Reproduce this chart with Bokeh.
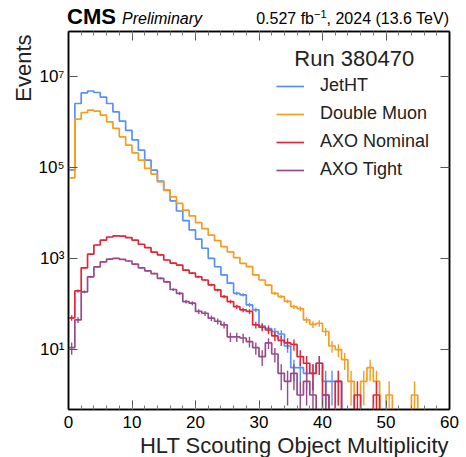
import numpy as np
from bokeh.plotting import figure
from bokeh.layouts import column
from bokeh.models import (Range1d, LinearAxis, LogAxis, FixedTicker, Label, Title, Div,
                          Legend, LegendItem)
from bokeh.embed import file_html
from bokeh.resources import INLINE

# ---------------- data ----------------
bin_edges = list(range(0, 61))

jetht = [9.0e4, 2.6e6, 4.45e6, 4.9e6, 4.55e6, 3.6e6, 2.6e6, 1.7e6, 1.07e6, 6.7e5,
         4.1e5, 2.45e5, 1.48e5, 8.9e4, 5.1e4, 3.25e4, 1.88e4, 1.12e4, 6900, 4300,
         2700, 1700, 1020, 665, 440, 290, 173, 160, 96, 75,
         33, 29, 25, 22, 12, 4, 4, 3, 3, 5,
         2, 2, 2, 0, 0, 0, 0, 0, 0, 0,
         0, 0, 0, 0, 0, 0, 0, 0, 0, 0]

double_muon = [6.0e4, 1.18e6, 1.65e6, 1.86e6, 1.77e6, 1.44e6, 1.03e6, 7.35e5, 4.8e5, 3.15e5,
               2.14e5, 1.48e5, 9.7e4, 7.3e4, 4.9e4, 3.2e4, 2.3e4, 1.65e4, 1.17e4, 8800,
               6200, 4570, 3300, 2500, 1840, 1420, 1060, 790, 670, 440,
               340, 263, 173, 147, 115, 88, 80, 45, 36, 38,
               25, 12, 10, 6, 2, 0, 2, 4, 2, 0,
               1, 0, 0, 0, 1, 0, 0, 0, 0, 0]

axo_nominal = [50, 195, 630, 1260, 2000, 2570, 3000, 3170, 3150, 2900,
               2570, 2080, 1750, 1390, 1210, 935, 800, 725, 560, 480,
               400, 340, 265, 205, 146, 114, 88, 75, 69, 35,
               31, 27, 20, 16, 14, 13, 7, 5, 3, 5,
               1, 0, 2, 0, 0, 1, 0, 0, 1, 0,
               0, 0, 0, 0, 0, 0, 0, 0, 0, 0]

axo_tight = [11, 45, 187, 400, 660, 850, 980, 1020, 970, 890,
             760, 630, 540, 470, 370, 310, 210, 173, 114, 105,
             69, 63, 49, 42, 35, 19, 19, 18, 15, 11,
             7, 14, 8, 3, 2, 3, 1, 2, 1, 0,
             1, 0, 0, 0, 0, 0, 0, 0, 0, 0,
             0, 0, 0, 0, 0, 0, 0, 0, 0, 0]

series_names = ["JetHT", "Double Muon", "AXO Nominal", "AXO Tight"]
series_values = [jetht, double_muon, axo_nominal, axo_tight]
series_colors = ["#5790fc", "#f89c20", "#e42536", "#964a8b"]

x_ticks = [0, 10, 20, 30, 40, 50, 60]
x_minor_ticks = list(range(0, 61, 2))
y_ticks = [10, 1000, 100000, 10000000]
y_tick_labels = ["10¹", "10³", "10⁵", "10⁷"]

x_label = "HLT Scouting Object Multiplicity"
y_label = "Events"

FONT = "Liberation Sans"
FLOOR = 1e-3
TOP_H = 28
BOTTOM_H = 24

# ---------------- figure ----------------
p = figure(width=466, height=457 - TOP_H - BOTTOM_H, x_range=Range1d(0, 60),
           y_range=Range1d(0.48, 1.0e8),
           y_axis_type="log", output_backend="svg", toolbar_location=None,
           min_border_left=68, min_border_right=17, min_border_top=31 - TOP_H,
           min_border_bottom=48 - BOTTOM_H)
p.margin = 0
p.grid.visible = False
p.background_fill_color = "white"
p.border_fill_color = "white"
p.outline_line_color = "black"
p.outline_line_width = 1.5

renderers = []
edges = np.array(bin_edges, dtype=float)
centers = 0.5 * (edges[:-1] + edges[1:])
for vals, col in zip(series_values, series_colors):
    v = np.array(vals, dtype=float)
    ys = np.where(v > 0, v, FLOOR)
    ys = np.append(ys, ys[-1])
    r = p.step(edges, ys, mode="after", line_color=col, line_width=1.7)
    renderers.append(r)
    nz = v > 0
    err = np.sqrt(v[nz])
    lo = np.maximum(v[nz] - err, FLOOR)
    hi = v[nz] + err
    p.segment(x0=centers[nz], y0=lo, x1=centers[nz], y1=hi, line_color=col, line_width=1.4)

# axes styling
def style_axis(ax, labels=True):
    ax.axis_line_color = "black"
    ax.axis_line_width = 1.5
    ax.major_tick_line_color = "#555555"
    ax.minor_tick_line_color = "#777777"
    ax.major_tick_in = 9
    ax.major_tick_out = 0
    ax.minor_tick_in = 4
    ax.minor_tick_out = 0
    ax.major_label_text_font = FONT
    ax.major_label_text_font_size = "17px"
    ax.major_label_text_color = "black"
    if not labels:
        ax.major_label_text_font_size = "1px"
        ax.major_label_text_color = None
        ax.major_label_standoff = 0

xax = p.xaxis[0]
xax.ticker = FixedTicker(ticks=x_ticks, minor_ticks=x_minor_ticks)
style_axis(xax)
xax.major_label_standoff = 6

yax = p.yaxis[0]
yax.ticker = FixedTicker(ticks=y_ticks, minor_ticks=[])
yax.major_label_overrides = {t: l for t, l in zip(y_ticks, y_tick_labels)}
style_axis(yax)
yax.major_label_standoff = 4

top_ax = LinearAxis(ticker=FixedTicker(ticks=x_ticks, minor_ticks=x_minor_ticks))
style_axis(top_ax, labels=False)
p.add_layout(top_ax, "above")

right_ax = LogAxis(ticker=FixedTicker(ticks=y_ticks, minor_ticks=[]))
style_axis(right_ax, labels=False)
p.add_layout(right_ax, "right")

# y axis title at the top end of the axis (matplotlib style)
p.add_layout(Title(text=y_label, align="right", offset=3, standoff=0,
                   vertical_align="bottom", text_font=FONT, text_font_size="22px",
                   text_font_style="normal", text_color="#222222"), "left")

# legend
items = [LegendItem(label=n, renderers=[r]) for n, r in zip(series_names, renderers)]
legend = Legend(items=items, location=(208, 229))
legend.border_line_alpha = 0
legend.background_fill_alpha = 0
legend.padding = 0
legend.margin = 0
legend.spacing = 7
legend.glyph_width = 28
legend.glyph_height = 20
legend.label_height = 20
legend.label_standoff = 16
legend.label_text_font = FONT
legend.label_text_font_size = "18px"
legend.label_text_color = "#222222"
p.add_layout(legend, "center")

def ylog(py):
    return 10 ** (7 - (py - 76.7) / 45.5)

def xdat(px):
    return (px - 68.3) / 6.35

p.add_layout(Label(x=xdat(354), y=ylog(58), text="Run 380470", text_align="center",
                   text_baseline="alphabetic", text_font=FONT, text_font_size="22px",
                   text_color="#222222"))

# top header row (outside the plot frame)
header = (
    f'<div style="position:relative;width:466px;height:{TOP_H}px;font-family:\'{FONT}\';color:black;">'
    '<span style="position:absolute;left:67px;top:5.5px;font-size:22px;line-height:22px;'
    'font-weight:bold;white-space:nowrap;">CMS</span>'
    '<span style="position:absolute;left:122px;top:10.5px;font-size:16px;line-height:16px;'
    'font-style:italic;white-space:nowrap;">Preliminary</span>'
    '<span style="position:absolute;right:17px;top:10.5px;font-size:16px;line-height:16px;'
    'white-space:nowrap;">0.527 fb<sup style="font-size:11px;line-height:0;">−1</sup>, 2024 (13.6 TeV)</span>'
    '</div>'
)
top_div = Div(text=header, width=466, height=TOP_H, margin=0)

# bottom row: x axis title, right-aligned at the end of the axis (matplotlib style)
footer = (
    f'<div style="position:relative;width:466px;height:{BOTTOM_H}px;font-family:\'{FONT}\';color:#222222;">'
    '<span style="position:absolute;right:17.5px;top:1.5px;font-size:22px;line-height:22px;'
    f'white-space:nowrap;">{x_label}</span>'
    '</div>'
)
bottom_div = Div(text=footer, width=466, height=BOTTOM_H, margin=0)

layout = column(top_div, p, bottom_div, spacing=0)
open("out.html", "w").write(file_html(layout, INLINE))
